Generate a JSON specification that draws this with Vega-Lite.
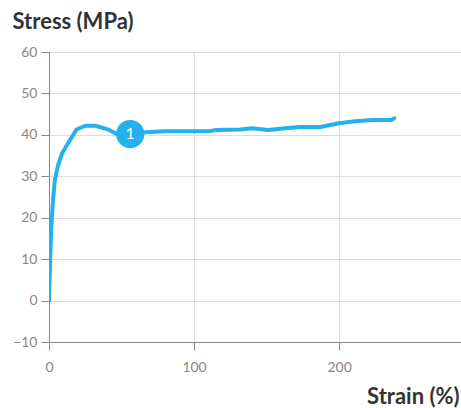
{
  "$schema": "https://vega.github.io/schema/vega-lite/v6.json",
  "width": 412,
  "height": 290,
  "autosize": "none",
  "padding": {"left": 49, "top": 52, "right": 0, "bottom": 66},
  "background": "white",
  "config": {
    "font": "Lato",
    "view": {"stroke": null},
    "axis": {
      "domainColor": "#888888",
      "tickColor": "#888888",
      "gridColor": "#dddddd",
      "labelColor": "#888888",
      "labelFontSize": 14,
      "labelFont": "Lato",
      "titleFont": "Lato",
      "titleFontSize": 22,
      "titleFontWeight": "bold",
      "titleColor": "#333333",
      "tickSize": 8
    }
  },
  "datasets": {
    "curve": [
      {"strain": 0, "stress": 0},
      {"strain": 0.8, "stress": 10},
      {"strain": 1.5, "stress": 17},
      {"strain": 2.5, "stress": 23},
      {"strain": 4, "stress": 29},
      {"strain": 6.5, "stress": 33},
      {"strain": 9, "stress": 35.5},
      {"strain": 14, "stress": 38.5},
      {"strain": 19, "stress": 41.3},
      {"strain": 25, "stress": 42.2},
      {"strain": 32, "stress": 42.2},
      {"strain": 40, "stress": 41.4},
      {"strain": 48, "stress": 40},
      {"strain": 56, "stress": 40.2},
      {"strain": 66, "stress": 40.6},
      {"strain": 80, "stress": 40.9},
      {"strain": 111, "stress": 40.9},
      {"strain": 115, "stress": 41.2},
      {"strain": 132, "stress": 41.3},
      {"strain": 140, "stress": 41.6},
      {"strain": 151, "stress": 41.2},
      {"strain": 163, "stress": 41.6},
      {"strain": 173, "stress": 41.9},
      {"strain": 187, "stress": 41.9},
      {"strain": 200, "stress": 42.8},
      {"strain": 211, "stress": 43.3},
      {"strain": 223, "stress": 43.6},
      {"strain": 236, "stress": 43.6},
      {"strain": 238, "stress": 44}
    ],
    "marker": [
      {"strain": 56, "stress": 40.2, "label": "1"}
    ]
  },
  "layer": [
    {
      "data": {"name": "curve"},
      "mark": {"type": "line", "color": "#25b0ef", "strokeWidth": 4, "strokeCap": "round", "strokeJoin": "round", "clip": true},
      "encoding": {
        "x": {
          "field": "strain", "type": "quantitative",
          "scale": {"domain": [0, 284], "nice": false, "zero": false},
          "axis": {
            "values": [0, 100, 200],
            "title": "Strain (%)",
            "titleAnchor": "end",
            "titleAlign": "right",
            "titleBaseline": "alphabetic",
            "titleX": 410,
            "titleY": 61,
            "labelPadding": 10,
            "labelFlush": false
          }
        },
        "y": {
          "field": "stress", "type": "quantitative",
          "scale": {"domain": [-10, 60], "nice": false, "zero": false},
          "axis": {
            "values": [-10, 0, 10, 20, 30, 40, 50, 60],
            "title": "Stress (MPa)",
            "titleAngle": 0,
            "titleAlign": "left",
            "titleBaseline": "alphabetic",
            "titleX": -37,
            "titleY": -24,
            "labelPadding": 4
          }
        }
      }
    },
    {
      "data": {"name": "marker"},
      "mark": {"type": "point", "filled": true, "size": 800, "color": "#25b0ef", "opacity": 1},
      "encoding": {
        "x": {"field": "strain", "type": "quantitative"},
        "y": {"field": "stress", "type": "quantitative"}
      }
    },
    {
      "data": {"name": "marker"},
      "mark": {"type": "text", "color": "white", "fontSize": 16, "font": "Lato", "baseline": "middle", "align": "center"},
      "encoding": {
        "x": {"field": "strain", "type": "quantitative"},
        "y": {"field": "stress", "type": "quantitative"},
        "text": {"field": "label"}
      }
    }
  ]
}
